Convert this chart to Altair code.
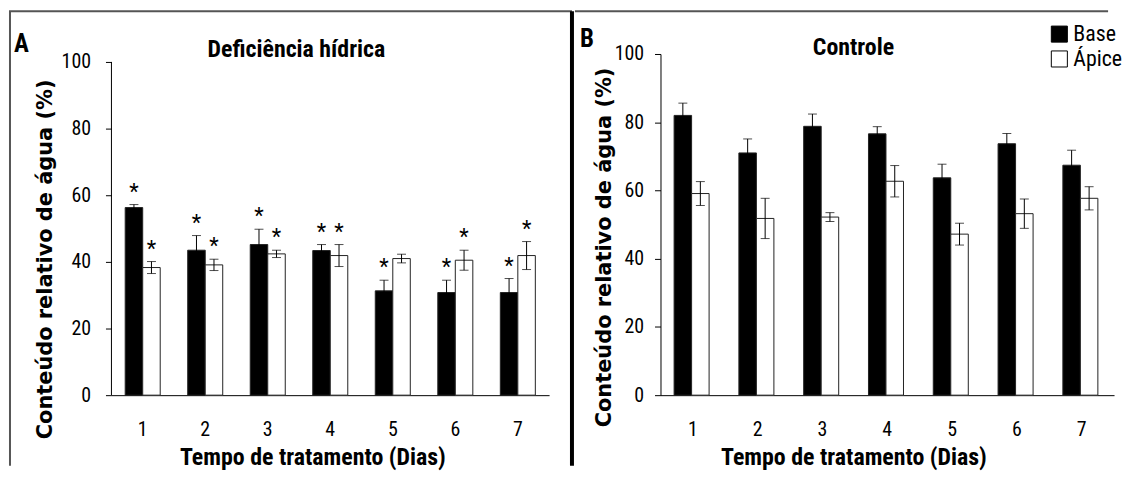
import altair as alt
import pandas as pd

# ---------------- data ----------------
days = [1, 2, 3, 4, 5, 6, 7]
series_names = ["Base", "Ápice"]

# Panel A: Deficiência hídrica
a_base = [56.3, 43.5, 45.2, 43.4, 31.3, 30.8, 30.8]
a_base_err = [0.9, 4.4, 4.6, 1.8, 3.2, 3.7, 4.2]
a_apice = [38.3, 39.1, 42.4, 41.9, 41.0, 40.5, 41.9]
a_apice_err = [1.8, 1.7, 1.1, 3.3, 1.3, 3.0, 4.2]
a_base_star = [1, 1, 1, 1, 1, 1, 1]
a_apice_star = [1, 1, 1, 1, 0, 1, 1]

# Panel B: Controle
b_base = [82.0, 71.0, 78.8, 76.6, 63.7, 73.7, 67.4]
b_base_err = [3.6, 4.1, 3.6, 2.1, 4.0, 3.0, 4.4]
b_apice = [59.1, 51.8, 52.2, 62.7, 47.2, 53.2, 57.7]
b_apice_err = [3.5, 5.9, 1.3, 4.6, 3.2, 4.3, 3.4]
b_base_star = [0, 0, 0, 0, 0, 0, 0]
b_apice_star = [0, 0, 0, 0, 0, 0, 0]

y_ticks = [0, 20, 40, 60, 80, 100]

NARROW = "Liberation Sans Narrow, Roboto Condensed, Arial Narrow, sans-serif"
WIDE = "DejaVu Sans, Verdana, sans-serif"


def make_df(base, base_err, apice, apice_err, base_star, apice_star):
    rows = []
    for i, d in enumerate(days):
        rows.append(dict(day=d, serie=series_names[0], value=base[i], err=base_err[i], star=base_star[i]))
        rows.append(dict(day=d, serie=series_names[1], value=apice[i], err=apice_err[i], star=apice_star[i]))
    return pd.DataFrame(rows)


one = pd.DataFrame({"k": [0]})


def panel(df, width, ymax, pad_inner, label_pad, ytx, yty, title, title_x, title_y,
          letter, letter_x, letter_y, xtx, legend, top_x1, top_x2, left_rule_x,
          divider_x, own_domain):
    x_enc = alt.X(
        "day:O",
        scale=alt.Scale(paddingInner=pad_inner, paddingOuter=pad_inner / 2),
        axis=alt.Axis(
            title="Tempo de tratamento (Dias)", labelAngle=0, labelFont=NARROW,
            labelFontSize=20, labelColor="black", labelPadding=25, ticks=False,
            tickSize=0, domainColor="black", domainWidth=1, titleFont=NARROW,
            titleFontSize=24, titleFontWeight="bold", titleColor="black",
            titleX=xtx, titleY=51, titleAlign="center", titleBaseline="top",
        ),
    )
    y_scale = alt.Scale(domain=[0, ymax], nice=False, zero=True)
    y_axis = alt.Axis(
        values=y_ticks, title="Conteúdo relativo de água (%)", grid=False,
        domain=not own_domain, domainColor="black", domainWidth=1,
        tickColor="black", tickSize=6, labelFont=NARROW, labelFontSize=20,
        labelColor="black", labelPadding=label_pad, titleFont=WIDE,
        titleFontSize=21, titleFontWeight="bold", titleColor="black",
        titleAngle=270, titleX=ytx, titleY=yty, titleAlign="center",
        titleBaseline="middle",
    )
    xoff = alt.XOffset("serie:N", sort=series_names)
    base = alt.Chart(df)
    bars = base.mark_bar(stroke="#222", strokeWidth=1).encode(
        x=x_enc,
        xOffset=xoff,
        y=alt.Y("value:Q", scale=y_scale, axis=y_axis),
        fill=alt.Fill("serie:N", sort=series_names,
                      scale=alt.Scale(domain=series_names, range=["black", "white"]),
                      legend=legend),
    )
    errd = base.transform_calculate(lo="datum.value - datum.err", hi="datum.value + datum.err")
    err = errd.mark_rule(color="black", strokeWidth=1).encode(
        x="day:O", xOffset=xoff, y="lo:Q", y2="hi:Q")
    cap_hi = errd.mark_tick(color="black", size=9, thickness=1).encode(
        x="day:O", xOffset=xoff, y="hi:Q")
    cap_lo = errd.mark_tick(color="black", size=9, thickness=1).encode(
        x="day:O", xOffset=xoff, y="lo:Q")
    stars = errd.transform_filter("datum.star == 1").mark_text(
        text="*", font=NARROW, fontSize=22, baseline="alphabetic", dy=-6, color="black"
    ).encode(x="day:O", xOffset=xoff, y="hi:Q")

    t = alt.Chart(one)
    title_t = t.mark_text(text=title, font=NARROW, fontSize=24, fontWeight="bold",
                          align="center", baseline="alphabetic", color="black").encode(
        x=alt.value(title_x), y=alt.value(title_y))
    letter_t = t.mark_text(text=letter, font=NARROW, fontSize=25, fontWeight="bold",
                           align="left", baseline="alphabetic", color="black").encode(
        x=alt.value(letter_x), y=alt.value(letter_y))
    top_rule = t.mark_rule(color="#555", strokeWidth=2).encode(
        x=alt.value(top_x1), x2=alt.value(top_x2), y=alt.value(-43))
    layers = [bars, err, cap_hi, cap_lo, stars, title_t, letter_t, top_rule]
    if left_rule_x is not None:
        layers.append(t.mark_rule(color="#555", strokeWidth=2).encode(
            x=alt.value(left_rule_x), y=alt.value(-43), y2=alt.value(414)))
    if divider_x is not None:
        layers.append(t.mark_rule(color="black", strokeWidth=4).encode(
            x=alt.value(divider_x), y=alt.value(-43), y2=alt.value(414)))
    if own_domain:
        layers.append(t.mark_rule(color="black", strokeWidth=1).encode(
            x=alt.value(0), y=alt.datum(0), y2=alt.datum(100)))
    return alt.layer(*layers).properties(width=width, height=343)


df_a = make_df(a_base, a_base_err, a_apice, a_apice_err, a_base_star, a_apice_star)
df_b = make_df(b_base, b_base_err, b_apice, b_apice_err, b_base_star, b_apice_star)

legend_b = alt.Legend(
    orient="none", legendX=390, legendY=-31, title=None, labelFont=NARROW,
    labelFontSize=22, labelColor="black", symbolType="square", symbolSize=260,
    symbolStrokeColor="black", symbolStrokeWidth=1, rowPadding=3, labelOffset=3,
    padding=0,
)

panel_a = panel(df_a, 440, 100 * 343 / 335, 0.44, 15, -66, 206,
                "Deficiência hídrica", 186, 3, "A", -98, -2, 202, None,
                -103, 463, -102, 463, True)
panel_b = panel(df_b, 456, 100, 0.42, 11, -56, 194,
                "Controle", 194, 1, "B", -81, -7, 194, legend_b,
                -86, 450, None, None, False)

chart = alt.hconcat(panel_a, panel_b, spacing=0).resolve_scale(
    fill="independent").resolve_legend(fill="independent").properties(
    padding=0).configure_view(stroke=None)

chart.save("out.html", embed_options={"renderer": "svg", "actions": False})
